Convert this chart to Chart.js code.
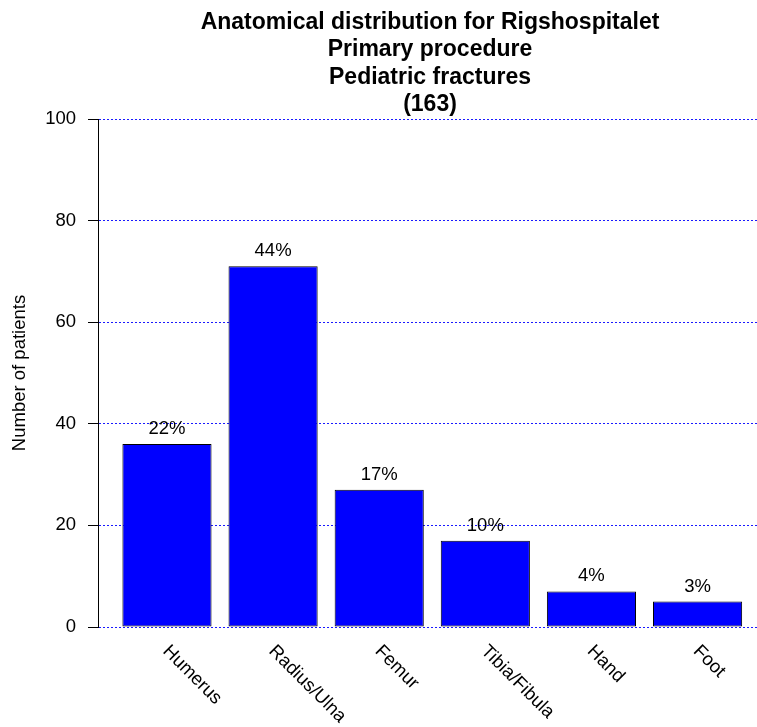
<!DOCTYPE html>
<html lang="en">
<head>
    <meta charset="UTF-8">
    <title>Anatomical distribution for Rigshospitalet</title>
    <script src="https://cdn.jsdelivr.net/npm/chart.js"></script>
    <style>
        body { margin: 0; padding: 0; background: white; }
        canvas { display: block; }
    </style>
</head>
<body>
    <canvas id="barChart" width="757" height="727"></canvas>

    <script>
        let categories = ["Humerus", "Radius/Ulna", "Femur", "Tibia/Fibula", "Hand", "Foot"];
        let patients = [36, 71, 27, 17, 7, 5];
        let yTicks = [0, 20, 40, 60, 80, 100];
        let titleLines = ["Anatomical distribution for Rigshospitalet", "Primary procedure", "Pediatric fractures"];

        let total = patients.reduce((a, b) => a + b, 0);
        let percents = patients.map(v => Math.round(v / total * 100) + "%");
        let fontFamily = "'Liberation Sans', Arial, Helvetica, sans-serif";

        // title, percent labels and slanted category names
        const textPlugin = {
            id: "textPlugin",
            afterDatasetsDraw(chart) {
                let ctx = chart.ctx;
                let meta = chart.getDatasetMeta(0);
                ctx.save();
                ctx.fillStyle = "black";
                ctx.font = "18.5px " + fontFamily;
                ctx.textAlign = "center";
                ctx.textBaseline = "alphabetic";
                meta.data.forEach((bar, i) => {
                    ctx.fillText(percents[i], bar.x, bar.y - 10);
                });
                ctx.restore();
            },
            afterDraw(chart) {
                let ctx = chart.ctx;
                let xScale = chart.scales.x;
                ctx.save();
                ctx.fillStyle = "black";

                ctx.font = "bold 23px " + fontFamily;
                ctx.textAlign = "center";
                ctx.textBaseline = "alphabetic";
                let lines = titleLines.concat(["(" + total + ")"]);
                lines.forEach((line, i) => {
                    ctx.fillText(line, 430, 29 + i * 27.3);
                });

                ctx.font = "18.5px " + fontFamily;
                ctx.textAlign = "left";
                categories.forEach((cat, i) => {
                    let cx = xScale.getPixelForValue(i);
                    ctx.save();
                    ctx.translate(cx - 5, 652);
                    ctx.rotate(Math.PI / 4);
                    ctx.fillText(cat, 0, 0);
                    ctx.restore();
                });
                ctx.restore();
            }
        };

        let barChart = new Chart(document.getElementById("barChart").getContext("2d"), {
            type: "bar",
            data: {
                datasets: [{
                    data: patients.map((v, i) => ({ x: i, y: v })),
                    backgroundColor: "#0000ff",
                    borderColor: "black",
                    borderWidth: 1,
                    borderSkipped: false,
                    barPercentage: 1,
                    categoryPercentage: 0.84
                }]
            },
            options: {
                responsive: false,
                animation: false,
                devicePixelRatio: 1,
                layout: { padding: { top: 119, bottom: 100, left: 0, right: 0 } },
                plugins: {
                    legend: { display: false },
                    title: { display: false },
                    tooltip: { enabled: false }
                },
                scales: {
                    x: {
                        type: "linear",
                        display: false,
                        offset: false,
                        min: -0.65,
                        max: 5.56,
                        afterBuildTicks: (scale) => { scale.ticks = categories.map((c, i) => ({ value: i })); }
                    },
                    y: {
                        min: 0,
                        max: 100,
                        afterBuildTicks: (scale) => { scale.ticks = yTicks.map(v => ({ value: v })); },
                        afterFit: (scale) => { scale.width = 98; },
                        ticks: {
                            color: "black",
                            padding: 12,
                            font: { family: fontFamily, size: 18.5 }
                        },
                        grid: {
                            color: "#1a1aff",
                            lineWidth: 1,
                            tickLength: 10,
                            tickColor: "black",
                            tickBorderDash: []
                        },
                        border: {
                            display: true,
                            color: "black",
                            width: 1,
                            dash: [2, 2]
                        },
                        title: {
                            display: true,
                            text: "Number of patients",
                            color: "black",
                            padding: { top: 9, bottom: 0 },
                            font: { family: fontFamily, size: 18.5 }
                        }
                    }
                }
            },
            plugins: [textPlugin]
        });
    </script>
</body>
</html>
